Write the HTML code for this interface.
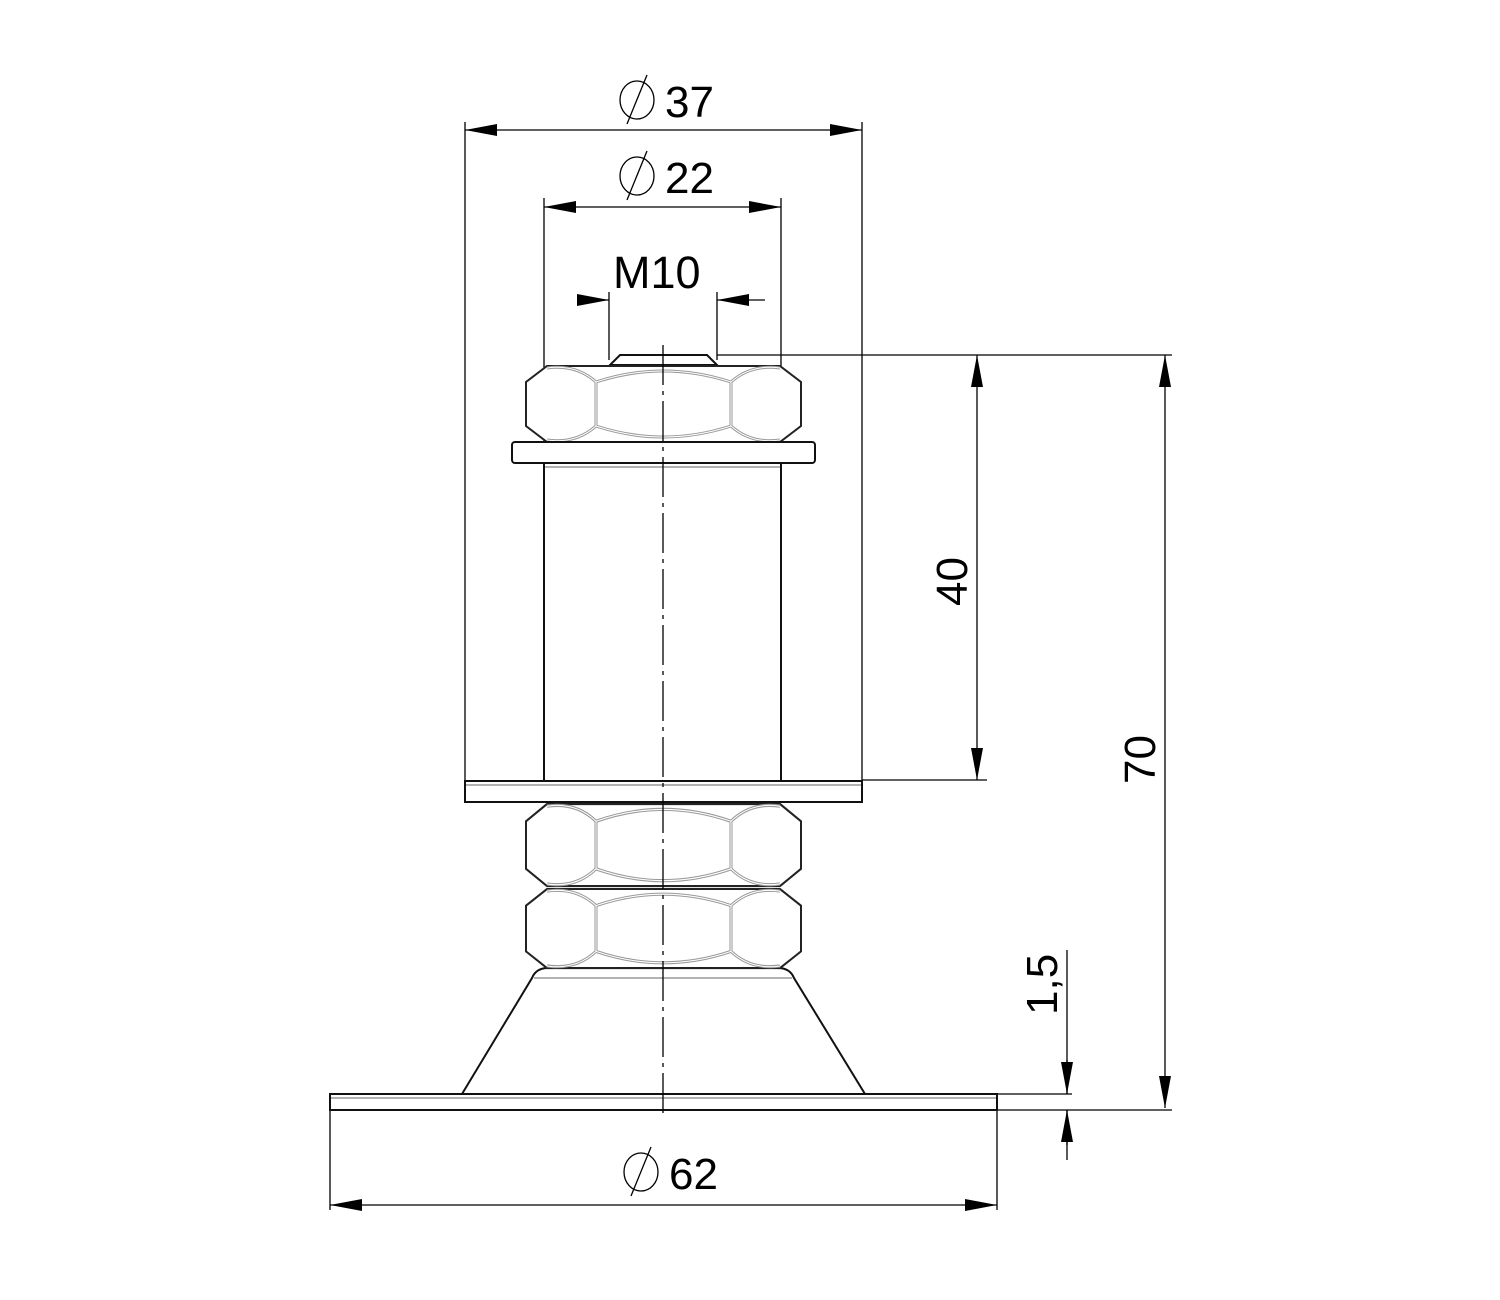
<!DOCTYPE html>
<html><head><style>html,body{margin:0;padding:0;background:#fff}svg{display:block}</style></head>
<body>
<svg width="1500" height="1300" viewBox="0 0 1500 1300" xmlns="http://www.w3.org/2000/svg">
<defs>
<marker id="a" viewBox="0 0 32 12" refX="32" refY="6" markerWidth="32" markerHeight="12" markerUnits="userSpaceOnUse" orient="auto-start-reverse"><path d="M0,0 L32,6 L0,12 Z" fill="#000"/></marker>
<g id="nut">
<path d="M21,0 L254,0 L275,16 L275,60 L254,76 L21,76 L0,60 L0,16 Z" fill="#fff" stroke="#222" stroke-width="2"/>
<g fill="none" stroke="#999" stroke-width="3"><path d="M70,16 L70,60 M205,16 L205,60 M70,16 Q137,-6 205,16 M70,60 Q137,82 205,60 M70,16 Q50,-2 21,2 M70,60 Q50,78 21,74 M205,16 Q225,-2 254,2 M205,60 Q225,78 254,74"/></g>
<g fill="none" stroke="#fff" stroke-width="1"><path d="M70,16 L70,60 M205,16 L205,60 M70,16 Q137,-6 205,16 M70,60 Q137,82 205,60 M70,16 Q50,-2 21,2 M70,60 Q50,78 21,74 M205,16 Q225,-2 254,2 M205,60 Q225,78 254,74"/></g>
</g>
</defs>
<g stroke="#000" fill="none" stroke-width="1.3">
<path d="M465,122 V781 M862,122 V781 M544,198 V463 M781,198 V463 M609,292 V360 M717,292 V360 M717,355 H1172 M862,780 H987 M997,1094 H1072 M997,1110 H1172 M330,1110 V1210 M997,1110 V1210 M1067,950 V1094 M1067,1110 V1160"/>
</g>
<g stroke="#000" fill="none" stroke-width="1.3">
<line x1="465" y1="130" x2="862" y2="130" marker-start="url(#a)" marker-end="url(#a)"/>
<line x1="544" y1="207" x2="781" y2="207" marker-start="url(#a)" marker-end="url(#a)"/>
<line x1="577" y1="300" x2="609" y2="300" marker-end="url(#a)"/>
<line x1="765" y1="300" x2="717" y2="300" marker-end="url(#a)"/>
<line x1="977" y1="355" x2="977" y2="780" marker-start="url(#a)" marker-end="url(#a)"/>
<line x1="1165" y1="355" x2="1165" y2="1108" marker-start="url(#a)" marker-end="url(#a)"/>
<line x1="330" y1="1205" x2="997" y2="1205" marker-start="url(#a)" marker-end="url(#a)"/>
<line x1="1067" y1="1060" x2="1067" y2="1094" marker-end="url(#a)"/>
<line x1="1067" y1="1145" x2="1067" y2="1110" marker-end="url(#a)"/>
</g>
<g stroke="#111" stroke-width="2" fill="#fff">
<path d="M620,355 L707,355 L717,365 L610,365 Z"/>
<rect x="544" y="463" width="237" height="318"/>
<rect x="465" y="781" width="397" height="21"/>
<path d="M462,1094 L532,978 Q536,968 548,968 L778,968 Q790,968 794,978 L865,1094"/>
<rect x="330" y="1094" width="667" height="16"/>
</g>
<g stroke="#999" stroke-width="1.5" fill="none"><path d="M534,978 H792 M331,1098 H996 M466,785 H861 M545,467 H780"/></g>
<use href="#nut" x="526" y="366"/>
<use href="#nut" transform="translate(526,804) scale(1,1.08)"/>
<use href="#nut" transform="translate(526,889) scale(1,1.04)"/>
<g stroke="#111" stroke-width="2" fill="#fff"><rect x="512" y="442" width="303" height="21" rx="3"/></g>
<line x1="663" y1="345" x2="663" y2="1118" stroke="#000" stroke-width="1.3" stroke-dasharray="40,6,4,6"/>
<g font-family="'Liberation Sans', sans-serif" font-size="44" fill="#000">
<g stroke="#000" stroke-width="1.3" fill="none">
<ellipse cx="637" cy="100" rx="17" ry="19"/><line x1="627" y1="124" x2="647" y2="75"/>
<ellipse cx="637" cy="176" rx="17" ry="19"/><line x1="627" y1="200" x2="647" y2="151"/>
<ellipse cx="641" cy="1172" rx="17" ry="19"/><line x1="631" y1="1196" x2="651" y2="1147"/>
</g>
<text x="665" y="117">37</text>
<text x="665" y="193">22</text>
<text x="613" y="288" font-size="45">M10</text>
<text x="669" y="1189">62</text>
<text transform="translate(967,606) rotate(-90)">40</text>
<text transform="translate(1155,784) rotate(-90)">70</text>
<text transform="translate(1057,1015) rotate(-90)">1,5</text>
</g>
</svg>
</body></html>
